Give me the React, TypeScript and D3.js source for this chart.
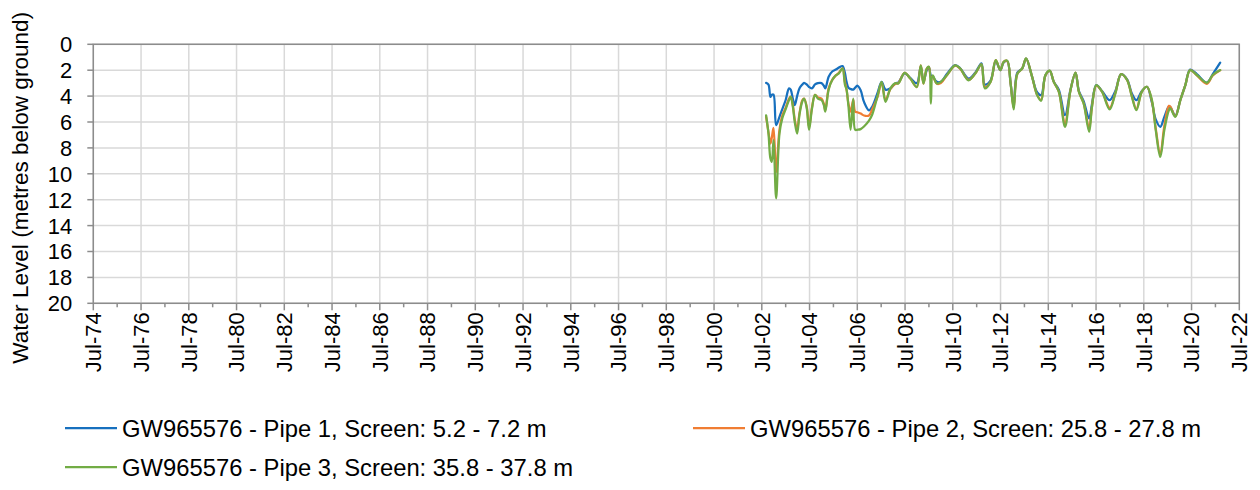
import React from 'react';
import * as d3 from 'd3';

// decimal years (Jul = .5) and water levels in metres below ground
const dates = [
  2002.68, 2002.78, 2002.86, 2002.92, 2002.99, 2003.1, 2003.24, 2003.36, 2003.5, 2003.64,
  2003.71, 2003.8, 2003.88, 2003.98, 2004.08, 2004.2, 2004.27, 2004.38, 2004.48, 2004.6,
  2004.73, 2004.85, 2005.0, 2005.1, 2005.16, 2005.3, 2005.45, 2005.6, 2005.73, 2005.88,
  2005.98, 2006.05, 2006.13, 2006.22, 2006.33, 2006.41, 2006.5, 2006.64, 2006.78, 2006.99,
  2007.13, 2007.34, 2007.52, 2007.68, 2007.89, 2008.1, 2008.22, 2008.48, 2008.72, 2008.99,
  2009.16, 2009.27, 2009.41, 2009.5, 2009.58, 2009.66, 2009.83, 2010.0, 2010.25, 2010.6,
  2010.81, 2011.16, 2011.44, 2011.7, 2011.84, 2012.08, 2012.3, 2012.49, 2012.63, 2012.78,
  2012.92, 2013.05, 2013.2, 2013.41, 2013.57, 2013.82, 2014.03, 2014.2, 2014.38, 2014.56,
  2014.73, 2014.94, 2015.2, 2015.43, 2015.64, 2015.78, 2015.98, 2016.21, 2016.33, 2016.51,
  2016.75, 2017.07, 2017.31, 2017.55, 2017.8, 2018.0, 2018.19, 2018.42, 2018.63, 2018.84,
  2019.0, 2019.19, 2019.36, 2019.55, 2019.61, 2019.82, 2020.03, 2020.24, 2020.44, 2020.72,
  2021.14, 2021.39, 2021.7,
];

const pipe1 = [
  2.98, 3.11, 4.06, 3.9, 3.88, 6.25, 5.6, 5.0, 4.3, 3.4,
  3.5, 4.2, 4.7, 4.0, 3.4, 3.1, 2.97, 3.1, 3.3, 3.4,
  3.1, 3.0, 3.0, 3.2, 3.4, 2.5, 2.1, 1.95, 1.8, 1.68,
  2.2, 2.9, 3.35, 3.45, 3.5, 3.35, 3.2, 3.55, 4.45, 5.1,
  4.8, 3.8, 2.9, 3.5, 3.4, 3.0, 2.95, 2.25, 2.6, 3.0,
  1.73, 2.9, 2.0, 1.8, 2.4, 2.5, 2.9, 2.9, 2.3, 1.6,
  1.85, 2.65, 2.2, 1.47, 3.1, 2.8, 1.3, 2.0, 1.4, 1.3,
  3.0, 4.7, 2.2, 1.86, 1.1, 2.5, 3.7, 3.92, 2.4, 2.05,
  2.9, 3.5, 5.47, 3.5, 2.2, 3.6, 4.4, 5.73, 4.6, 3.15,
  3.6, 4.31, 3.6, 2.3, 2.7, 3.8, 4.31, 3.6, 3.28, 4.5,
  5.8, 6.37, 5.6, 4.8, 4.85, 5.5, 4.3, 3.15, 1.95, 2.3,
  2.95, 2.3, 1.42,
];

const pipe2 = [
  5.6, 6.8, 7.67, 7.2, 6.46, 9.85, 6.6, 5.5, 4.9, 4.2,
  4.05, 4.7, 5.8, 6.6, 5.3, 4.3, 4.2, 4.8, 6.4, 4.9,
  3.9, 4.1, 4.2, 4.6, 5.1, 3.4, 2.75, 2.4, 2.2, 1.85,
  2.9, 3.5, 4.6, 5.2, 4.3, 5.2, 5.25, 5.35, 5.5, 5.5,
  5.0, 4.1, 2.95, 4.3, 3.45, 3.05, 3.0, 2.2, 2.65, 3.3,
  1.62, 3.03, 1.87, 1.75, 2.6, 2.5, 3.05, 3.0, 2.4, 1.65,
  1.9, 2.75, 2.26, 1.55, 3.3, 2.9, 1.23, 2.0, 1.36, 1.3,
  3.0, 4.9, 2.3, 1.86, 1.1, 2.5, 3.9, 4.3, 2.4, 2.05,
  2.9, 3.66, 6.1, 3.54, 2.19, 3.66, 4.55, 6.5, 4.8, 3.2,
  3.66, 4.9, 3.75, 2.3, 2.76, 4.0, 5.0, 3.66, 3.28, 4.4,
  6.5, 8.5, 6.3, 4.75, 4.8, 5.55, 4.31, 3.15, 2.0, 2.4,
  3.05, 2.4, 2.0,
];

const pipe3 = [
  5.48, 6.9, 8.8, 9.08, 7.4, 11.9, 6.9, 5.7, 5.0, 4.3,
  4.05, 4.8, 6.0, 6.9, 5.4, 4.4, 4.2, 4.9, 6.6, 5.0,
  3.9, 4.2, 4.3, 4.7, 5.2, 3.5, 2.76, 2.4, 2.25, 1.86,
  3.1, 3.5, 4.8, 6.6, 4.2, 6.6, 6.6, 6.55, 6.35, 5.9,
  5.4, 4.05, 2.9, 4.45, 3.4, 3.0, 3.03, 2.2, 2.65, 3.3,
  1.62, 3.03, 1.87, 1.73, 4.58, 2.39, 3.03, 2.9, 2.39, 1.62,
  1.87, 2.78, 2.26, 1.55, 3.4, 2.9, 1.23, 2.0, 1.36, 1.26,
  3.0, 5.03, 2.3, 1.86, 1.08, 2.5, 3.92, 4.36, 2.37, 2.04,
  2.9, 3.66, 6.37, 3.54, 2.19, 3.66, 4.57, 6.76, 4.83, 3.15,
  3.66, 5.03, 3.79, 2.3, 2.76, 4.05, 5.08, 3.66, 3.28, 4.31,
  6.63, 8.7, 6.63, 5.1, 4.95, 5.6, 4.31, 3.15, 1.99, 2.37,
  2.97, 2.37, 1.99,
];

const seriesNames = [
  'GW965576 - Pipe 1, Screen: 5.2 - 7.2 m',
  'GW965576 - Pipe 2, Screen: 25.8 - 27.8 m',
  'GW965576 - Pipe 3, Screen: 35.8 - 37.8 m',
];
const seriesColors = ['#1770be', '#f07d33', '#72ac45'];

const xTickLabels = [
  'Jul-74', 'Jul-76', 'Jul-78', 'Jul-80', 'Jul-82', 'Jul-84', 'Jul-86', 'Jul-88', 'Jul-90',
  'Jul-92', 'Jul-94', 'Jul-96', 'Jul-98', 'Jul-00', 'Jul-02', 'Jul-04', 'Jul-06', 'Jul-08',
  'Jul-10', 'Jul-12', 'Jul-14', 'Jul-16', 'Jul-18', 'Jul-20', 'Jul-22',
];
const yTicks = [0, 2, 4, 6, 8, 10, 12, 14, 16, 18, 20];

const W = 1260;
const H = 490;
const margin = { left: 93.3, right: W - 1239.3, top: 44.3, bottom: H - 303.3 };
const FONT = 'Liberation Sans, Arial, sans-serif';

export default function App() {
  const x = d3.scaleLinear().domain([1974.5, 2022.5]).range([margin.left, W - margin.right]);
  const y = d3.scaleLinear().domain([0, 20]).range([margin.top, H - margin.bottom]);
  const x0 = margin.left, x1 = W - margin.right, y0 = margin.top, y1 = H - margin.bottom;

  const majorYears = xTickLabels.map((_, i) => 1974.5 + 2 * i);
  const minorYears = d3.range(1975.5, 2022.5, 2);

  const line = d3.line<number>()
    .x((_, i) => x(dates[i]))
    .y(d => y(d))
    .curve(d3.curveCatmullRom.alpha(0.5));

  const series = [pipe1, pipe2, pipe3];
  const legendPos = [
    { lx: 65, ly: 428 },
    { lx: 693, ly: 428 },
    { lx: 65, ly: 467 },
  ];

  return (
    <svg width={W} height={H} style={{ display: 'block', position: 'absolute', left: 0, top: 0 }}
      fontFamily={FONT}>
      <rect width={W} height={H} fill="#fff" />
      {/* gridlines */}
      {yTicks.map(t => (
        <line key={'gy' + t} x1={x0} x2={x1} y1={y(t)} y2={y(t)} stroke="#d9d9d9" strokeWidth={1.5} />
      ))}
      {majorYears.map(t => (
        <line key={'gx' + t} x1={x(t)} x2={x(t)} y1={y0} y2={y1} stroke="#d9d9d9" strokeWidth={1.5} />
      ))}
      {/* frame */}
      <rect x={x0} y={y0} width={x1 - x0} height={y1 - y0} fill="none" stroke="#8c8c8c" strokeWidth={1.5} />
      {/* y ticks */}
      {yTicks.map(t => (
        <g key={'ty' + t}>
          <line x1={x0 - 6} x2={x0} y1={y(t)} y2={y(t)} stroke="#8c8c8c" strokeWidth={1.5} />
          <text x={x0 - 21} y={y(t)} dy="0.36em" textAnchor="end" fontSize={22} fill="#000">{t}</text>
        </g>
      ))}
      {/* x ticks */}
      {majorYears.map((t, i) => (
        <g key={'tx' + t}>
          <line x1={x(t)} x2={x(t)} y1={y1} y2={y1 + 7} stroke="#8c8c8c" strokeWidth={1.5} />
          <text transform={`translate(${x(t)},${y1 + 9}) rotate(-90)`} dy="0.36em" textAnchor="end"
            fontSize={22} fill="#000">{xTickLabels[i]}</text>
        </g>
      ))}
      {minorYears.map(t => (
        <line key={'mx' + t} x1={x(t)} x2={x(t)} y1={y1} y2={y1 + 4} stroke="#8c8c8c" strokeWidth={1.5} />
      ))}
      {/* y title */}
      <text transform={`translate(28,${(y0 + y1) / 2 + 14}) rotate(-90)`} textAnchor="middle" fontSize={22.6} fill="#000">
        Water Level (metres below ground)
      </text>
      {/* series */}
      {series.map((s, i) => (
        <path key={'s' + i} d={line(s) || ''} fill="none" stroke={seriesColors[i]} strokeWidth={2.25}
          strokeLinejoin="round" strokeLinecap="round" />
      ))}
      {/* legend */}
      {seriesNames.map((n, i) => (
        <g key={'lg' + i}>
          <line x1={legendPos[i].lx} x2={legendPos[i].lx + 52} y1={legendPos[i].ly} y2={legendPos[i].ly}
            stroke={seriesColors[i]} strokeWidth={2.25} />
          <text x={legendPos[i].lx + 57} y={legendPos[i].ly} dy="0.36em" fontSize={23.8} fill="#000">{n}</text>
        </g>
      ))}
    </svg>
  );
}
